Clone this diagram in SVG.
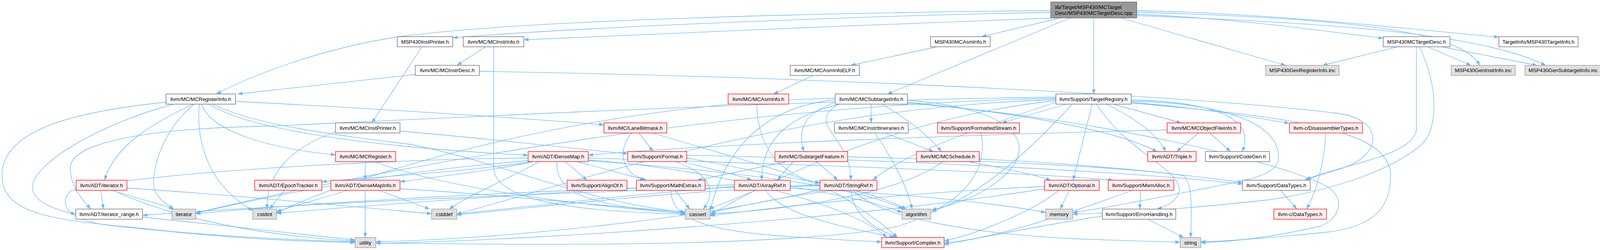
<svg xmlns="http://www.w3.org/2000/svg" width="4104" height="641" viewBox="0 0 4104 641">
<style>
.e{fill:none;stroke:#63b8ff;stroke-width:1.3}
.n rect{fill:#ffffff;stroke:#666666;stroke-width:1.3}
.r rect{fill:#fff0f0;stroke:#ff0000;stroke-width:1.3}
.s rect{fill:#e0e0e0;stroke:#999999;stroke-width:1.3}
.root rect{fill:#999999;stroke:#666666;stroke-width:1.3}
text{font-family:"Liberation Sans",Arial,Helvetica,sans-serif;font-size:13.33px;text-anchor:middle;fill:#000000}
.root text{text-anchor:start}
</style>
<defs>
<marker id="a" markerWidth="13" markerHeight="10" refX="12" refY="4.5" orient="auto" markerUnits="userSpaceOnUse"><path d="M0,0 L12,4.5 L0,9 z" fill="#63b8ff"/></marker>
</defs>
<rect width="4104" height="641" fill="#ffffff"/>
<g id="edges">
<path class="e" marker-end="url(#a)" d="M2690,27 C2000,34 1300,55 1015,95 C820,125 640,195 554,241"/>
<path class="e" marker-end="url(#a)" d="M2690,32 C2300,38 1500,68 1159,97"/>
<path class="e" marker-end="url(#a)" d="M2700,46 C2300,60 1600,90 1341,102"/>
<path class="e" marker-end="url(#a)" d="M2714,46 L2513,94"/>
<path class="e" marker-end="url(#a)" d="M2740,46 L2272,241"/>
<path class="e" marker-end="url(#a)" d="M2800,46 L2800,241"/>
<path class="e" marker-end="url(#a)" d="M2869,46 L3291,167.5"/>
<path class="e" marker-end="url(#a)" d="M2910,36 C3200,50 3400,82 3541,98"/>
<path class="e" marker-end="url(#a)" d="M2910,27 C3300,36 3650,80 3837,95"/>
<path class="e" marker-end="url(#a)" d="M2910,31 C3450,48 3740,78 3788,167.5"/>
<path class="e" marker-end="url(#a)" d="M2910,40 C3450,60 3800,90 3957,167.5"/>
<path class="e" marker-end="url(#a)" d="M1080,120 L952,315"/>
<path class="e" marker-end="url(#a)" d="M1243,120 L1170,167.5"/>
<path class="e" marker-end="url(#a)" d="M1264,120 L1264,430 C1264,520 1500,543 1754,549"/>
<path class="e" marker-end="url(#a)" d="M2399,120 L2178,167.5"/>
<path class="e" marker-end="url(#a)" d="M3578,120 L3386,167.5"/>
<path class="e" marker-end="url(#a)" d="M3654,120 L3766,167.5"/>
<path class="e" marker-end="url(#a)" d="M3690,120 L3935,167.5"/>
<path class="e" marker-end="url(#a)" d="M3626,120 L3626,330 C3626,400 3420,425 3340,462"/>
<path class="e" marker-end="url(#a)" d="M3634,120 C3685,230 3680,330 3640,370 C3560,440 3400,490 3250,512 C3000,540 2850,546 2746,549"/>
<path class="e" marker-end="url(#a)" d="M1063,191 L609,241"/>
<path class="e" marker-end="url(#a)" d="M1227,183 C2000,195 3000,240 3420,290 C3545,305 3540,395 3440,430 C3400,445 3360,452 3345,462"/>
<path class="e" marker-end="url(#a)" d="M2082,193.5 L1980,241"/>
<path class="e" marker-end="url(#a)" d="M425,262 C200,285 5,330 5,450 C5,570 200,565 450,595 C650,615 800,620 909,622"/>
<path class="e" marker-end="url(#a)" d="M444,267 C250,320 83,420 83,480 C83,520 150,540 194,549"/>
<path class="e" marker-end="url(#a)" d="M495,267 C380,320 290,380 268,462"/>
<path class="e" marker-end="url(#a)" d="M497,267 C420,330 393,420 393,470 C393,500 420,520 445,536"/>
<path class="e" marker-end="url(#a)" d="M510,267 C505,330 510,460 647,540"/>
<path class="e" marker-end="url(#a)" d="M516,267 C540,340 700,382 859,397"/>
<path class="e" marker-end="url(#a)" d="M535,267 C650,340 1000,380 1352,398"/>
<path class="e" marker-end="url(#a)" d="M603,260 C900,275 1300,300 1546,320"/>
<path class="e" marker-end="url(#a)" d="M545,267 C650,320 850,345 1050,370 C1300,420 1500,520 1754,544"/>
<path class="e" marker-end="url(#a)" d="M1937,267 C1940,370 1985,445 2099,470"/>
<path class="e" marker-end="url(#a)" d="M2230,267 L2230,315"/>
<path class="e" marker-end="url(#a)" d="M2258,267 C2330,310 2380,350 2410,388.5"/>
<path class="e" marker-end="url(#a)" d="M2138,262 C2060,290 2040,330 2058,388.5"/>
<path class="e" marker-end="url(#a)" d="M2150,267 C2060,290 1950,330 1950,462"/>
<path class="e" marker-end="url(#a)" d="M2146,267 C2060,320 2180,350 2178,462"/>
<path class="e" marker-end="url(#a)" d="M2323,257 C2620,280 2660,380 2560,460 C2500,510 2420,530 2385,538"/>
<path class="e" marker-end="url(#a)" d="M2323,262 C2600,290 2850,330 2962,388.5"/>
<path class="e" marker-end="url(#a)" d="M2323,265 C2800,300 3300,420 3400,480 C3445,510 3430,560 3380,580 C3250,610 3150,620 3074,622"/>
<path class="e" marker-end="url(#a)" d="M2138,256 C1900,280 1840,450 1818,540"/>
<path class="e" marker-end="url(#a)" d="M2138,252 C1500,265 900,450 708,546"/>
<path class="e" marker-end="url(#a)" d="M2850,267 L3024,315"/>
<path class="e" marker-end="url(#a)" d="M2832,267 C2900,300 2960,340 2984,388.5"/>
<path class="e" marker-end="url(#a)" d="M2896,256 C3150,262 3210,320 3180,388.5"/>
<path class="e" marker-end="url(#a)" d="M2896,262 C3100,280 3200,300 3300,316"/>
<path class="e" marker-end="url(#a)" d="M2796,267 L2747,462"/>
<path class="e" marker-end="url(#a)" d="M2807,267 C2880,380 2990,420 3015,470 C3030,500 3000,525 2962,536"/>
<path class="e" marker-end="url(#a)" d="M2730,267 L2565,315"/>
<path class="e" marker-end="url(#a)" d="M2745,267 C2660,360 2520,500 2385,542"/>
<path class="e" marker-end="url(#a)" d="M2896,259 C3166,266 3278,327 3273,409 C3265,450 3200,460 3100,480 C2900,520 2800,538 2746,545"/>
<path class="e" marker-end="url(#a)" d="M2896,264 C3300,300 3560,330 3560,450 C3560,530 3520,580 3400,595 C3250,610 3150,618 3074,620"/>
<path class="e" marker-end="url(#a)" d="M2703,262 C2500,330 2300,400 2235,462"/>
<path class="e" marker-end="url(#a)" d="M2703,258 C2300,300 1950,470 1818,552"/>
<path class="e" marker-end="url(#a)" d="M2703,255 C2000,280 1500,460 1169,549"/>
<path class="e" marker-end="url(#a)" d="M2703,252 C1800,270 900,450 501,546"/>
<path class="e" marker-end="url(#a)" d="M2703,249 C2000,258 1200,300 700,323 C300,330 180,380 180,430 C180,480 210,510 232,536"/>
<path class="e" marker-end="url(#a)" d="M1024,336 C1300,360 1500,385 1607,394"/>
<path class="e" marker-end="url(#a)" d="M859,338 C740,380 680,450 684,536"/>
<path class="e" marker-end="url(#a)" d="M1636,341 L1672,388.5"/>
<path class="e" marker-end="url(#a)" d="M1616,341 C1580,390 1590,440 1650,462"/>
<path class="e" marker-end="url(#a)" d="M1670,341 C1900,410 2100,460 2180,520 C2240,560 2280,590 2297,609"/>
<path class="e" marker-end="url(#a)" d="M2265,341 L2390,388.5"/>
<path class="e" marker-end="url(#a)" d="M2240,341 C2280,400 2320,470 2335,536"/>
<path class="e" marker-end="url(#a)" d="M2511,341 C2530,430 2480,520 2300,580 C2000,640 1200,626 962,623"/>
<path class="e" marker-end="url(#a)" d="M3068,341 L3012,388.5"/>
<path class="e" marker-end="url(#a)" d="M3097,341 L3150,388.5"/>
<path class="e" marker-end="url(#a)" d="M2988,333 C2500,345 1800,370 1506,398"/>
<path class="e" marker-end="url(#a)" d="M3394,341 C3390,420 3370,490 3345,536"/>
<path class="e" marker-end="url(#a)" d="M935,414.5 L935,462"/>
<path class="e" marker-end="url(#a)" d="M959,414.5 C1100,470 1400,520 1754,547"/>
<path class="e" marker-end="url(#a)" d="M1360,414.5 C1200,440 950,455 824,466"/>
<path class="e" marker-end="url(#a)" d="M1365,414.5 C1250,440 1100,455 1024,466"/>
<path class="e" marker-end="url(#a)" d="M1447,414.5 L1503,462"/>
<path class="e" marker-end="url(#a)" d="M1478,414.5 L1655,462"/>
<path class="e" marker-end="url(#a)" d="M1426,414.5 C1420,490 1500,530 1754,546"/>
<path class="e" marker-end="url(#a)" d="M1380,414.5 C1300,460 1200,500 1150,536"/>
<path class="e" marker-end="url(#a)" d="M1352,405 C900,410 300,450 180,490 C150,520 170,560 260,575 C500,605 800,617 909,620"/>
<path class="e" marker-end="url(#a)" d="M1506,410 C1900,440 2200,540 2270,609"/>
<path class="e" marker-end="url(#a)" d="M1506,405 C2000,420 2600,440 2850,462"/>
<path class="e" marker-end="url(#a)" d="M1506,412 C1900,440 2200,480 2312,536"/>
<path class="e" marker-end="url(#a)" d="M1352,412 C1000,440 700,500 501,547"/>
<path class="e" marker-end="url(#a)" d="M1750,414.5 C1800,430 1880,445 1925,462"/>
<path class="e" marker-end="url(#a)" d="M1730,414.5 C1830,450 1830,500 1800,536"/>
<path class="e" marker-end="url(#a)" d="M1758,405 C1900,430 2000,455 2099,468"/>
<path class="e" marker-end="url(#a)" d="M1758,398 C2300,410 2900,440 3181,472"/>
<path class="e" marker-end="url(#a)" d="M2090,414.5 L2145,462"/>
<path class="e" marker-end="url(#a)" d="M2014,414.5 L1785,462"/>
<path class="e" marker-end="url(#a)" d="M2030,414.5 L1990,462"/>
<path class="e" marker-end="url(#a)" d="M2170,402 C2500,410 2900,430 3030,450 C3055,470 3050,560 3048,609"/>
<path class="e" marker-end="url(#a)" d="M2480,414.5 C2560,430 2640,445 2690,462"/>
<path class="e" marker-end="url(#a)" d="M2507,408 C2800,420 3050,450 3181,468"/>
<path class="e" marker-end="url(#a)" d="M2413,414.5 C2300,500 2000,540 1818,548"/>
<path class="e" marker-end="url(#a)" d="M258,488 L265,536"/>
<path class="e" marker-end="url(#a)" d="M285,488 C340,505 400,520 445,536"/>
<path class="e" marker-end="url(#a)" d="M290,488 C400,540 600,600 909,618"/>
<path class="e" marker-end="url(#a)" d="M325,482 C600,500 900,530 1105,548"/>
<path class="e" marker-end="url(#a)" d="M728,488 L690,536"/>
<path class="e" marker-end="url(#a)" d="M890,488 C820,510 740,530 708,543"/>
<path class="e" marker-end="url(#a)" d="M970,488 L1100,536"/>
<path class="e" marker-end="url(#a)" d="M935,488 L935,609"/>
<path class="e" marker-end="url(#a)" d="M1024,484 C1300,500 1550,530 1754,543"/>
<path class="e" marker-end="url(#a)" d="M1728,488 L1766,536"/>
<path class="e" marker-end="url(#a)" d="M1717,488 C1720,560 1800,590 2000,605 C2100,612 2200,618 2257,620"/>
<path class="e" marker-end="url(#a)" d="M1629,482 C1300,500 900,530 708,547"/>
<path class="e" marker-end="url(#a)" d="M1935,488 L1815,536"/>
<path class="e" marker-end="url(#a)" d="M1960,488 C2000,550 2150,580 2290,609"/>
<path class="e" marker-end="url(#a)" d="M2023,478 C2150,500 2250,520 2309,545"/>
<path class="e" marker-end="url(#a)" d="M1880,478 C1600,500 1350,530 1169,549"/>
<path class="e" marker-end="url(#a)" d="M1880,474 C1300,490 800,520 501,548"/>
<path class="e" marker-end="url(#a)" d="M2023,483 C2300,495 2550,520 2677,545"/>
<path class="e" marker-end="url(#a)" d="M2190,488 C2250,505 2290,520 2320,536"/>
<path class="e" marker-end="url(#a)" d="M2178,488 C2185,560 2250,590 2297,609"/>
<path class="e" marker-end="url(#a)" d="M2185,488 C2250,560 2500,600 2750,612 C2900,618 2980,620 3021,621"/>
<path class="e" marker-end="url(#a)" d="M2133,488 C2000,505 1900,528 1819,545"/>
<path class="e" marker-end="url(#a)" d="M2099,476 C1700,490 1400,530 1169,551"/>
<path class="e" marker-end="url(#a)" d="M2099,474 C1500,490 800,520 365,552"/>
<path class="e" marker-end="url(#a)" d="M2099,486 C1800,560 1300,612 962,620"/>
<path class="e" marker-end="url(#a)" d="M2738,488 L2714,536"/>
<path class="e" marker-end="url(#a)" d="M2710,488 C2650,540 2500,600 2417,618"/>
<path class="e" marker-end="url(#a)" d="M2674,478 C2300,495 2000,530 1818,553"/>
<path class="e" marker-end="url(#a)" d="M2674,484 C2200,560 1400,615 962,624"/>
<path class="e" marker-end="url(#a)" d="M2920,488 L2918,536"/>
<path class="e" marker-end="url(#a)" d="M2900,488 C2700,560 2550,610 2417,623"/>
<path class="e" marker-end="url(#a)" d="M2822,554 C2650,580 2500,612 2417,627"/>
<path class="e" marker-end="url(#a)" d="M2938,562 L3030,609"/>
<path class="e" marker-end="url(#a)" d="M3278,488 L3320,536"/>
<path class="e" marker-end="url(#a)" d="M365,557 C600,580 800,605 909,615"/>
</g>
<g id="root" class="root"><rect x="2690" y="5" width="220" height="41"/><text x="2701" y="23">lib/Target/MSP430/MCTarget</text><text x="2701" y="38">Desc/MSP430MCTargetDesc.cpp</text></g>
<g id="n_MSP430InstPrinter" class="n"><rect x="1017" y="94" width="142" height="26"/><text x="1088" y="111.8">MSP430InstPrinter.h</text></g>
<g id="n_MCInstrInfo" class="n"><rect x="1186" y="94" width="155" height="26"/><text x="1263.5" y="111.8">llvm/MC/MCInstrInfo.h</text></g>
<g id="n_MSP430MCAsmInfo" class="n"><rect x="2382" y="94" width="153" height="26"/><text x="2458.5" y="111.8">MSP430MCAsmInfo.h</text></g>
<g id="n_MSP430MCTargetDesc" class="n"><rect x="3541" y="94" width="171" height="26"/><text x="3626.5" y="111.8">MSP430MCTargetDesc.h</text></g>
<g id="n_MSP430TargetInfo" class="n"><rect x="3837" y="94" width="203" height="26"/><text x="3938.5" y="111.8">TargetInfo/MSP430TargetInfo.h</text></g>
<g id="n_MCInstrDesc" class="n"><rect x="1063" y="167.5" width="164" height="26"/><text x="1145" y="185.3">llvm/MC/MCInstrDesc.h</text></g>
<g id="n_MCAsmInfoELF" class="n"><rect x="2023" y="167.5" width="177" height="26"/><text x="2111.5" y="185.3">llvm/MC/MCAsmInfoELF.h</text></g>
<g id="n_GenRegisterInfo" class="s"><rect x="3240" y="167.5" width="188" height="26"/><text x="3334" y="185.3">MSP430GenRegisterInfo.inc</text></g>
<g id="n_GenInstrInfo" class="s"><rect x="3715" y="167.5" width="164" height="26"/><text x="3797" y="185.3">MSP430GenInstrInfo.inc</text></g>
<g id="n_GenSubtargetInfo" class="s"><rect x="3904" y="167.5" width="195" height="26"/><text x="4001.5" y="185.3">MSP430GenSubtargetInfo.inc</text></g>
<g id="n_MCRegisterInfo" class="n"><rect x="425" y="241" width="178" height="26"/><text x="514" y="258.8">llvm/MC/MCRegisterInfo.h</text></g>
<g id="n_MCAsmInfo" class="r"><rect x="1864" y="241" width="155" height="26"/><text x="1941.5" y="258.8">llvm/MC/MCAsmInfo.h</text></g>
<g id="n_MCSubtargetInfo" class="n"><rect x="2138" y="241" width="185" height="26"/><text x="2230.5" y="258.8">llvm/MC/MCSubtargetInfo.h</text></g>
<g id="n_TargetRegistry" class="n"><rect x="2703" y="241" width="193" height="26"/><text x="2799.5" y="258.8">llvm/Support/TargetRegistry.h</text></g>
<g id="n_MCInstPrinter" class="n"><rect x="859" y="315" width="165" height="26"/><text x="941.5" y="332.8">llvm/MC/MCInstPrinter.h</text></g>
<g id="n_LaneBitmask" class="r"><rect x="1546" y="315" width="161" height="26"/><text x="1626.5" y="332.8">llvm/MC/LaneBitmask.h</text></g>
<g id="n_MCInstrItineraries" class="n"><rect x="2136" y="315" width="189" height="26"/><text x="2230.5" y="332.8">llvm/MC/MCInstrItineraries.h</text></g>
<g id="n_FormattedStream" class="r"><rect x="2400" y="315" width="210" height="26"/><text x="2505" y="332.8">llvm/Support/FormattedStream.h</text></g>
<g id="n_MCObjectFileInfo" class="r"><rect x="2988" y="315" width="188" height="26"/><text x="3082" y="332.8">llvm/MC/MCObjectFileInfo.h</text></g>
<g id="n_DisassemblerTypes" class="r"><rect x="3301" y="315" width="187" height="26"/><text x="3394.5" y="332.8">llvm-c/DisassemblerTypes.h</text></g>
<g id="n_MCRegister" class="r"><rect x="859" y="388.5" width="154" height="26"/><text x="936" y="406.3">llvm/MC/MCRegister.h</text></g>
<g id="n_DenseMap" class="r"><rect x="1352" y="388.5" width="154" height="26"/><text x="1429" y="406.3">llvm/ADT/DenseMap.h</text></g>
<g id="n_Format" class="r"><rect x="1607" y="388.5" width="151" height="26"/><text x="1682.5" y="406.3">llvm/Support/Format.h</text></g>
<g id="n_SubtargetFeature" class="r"><rect x="1984" y="388.5" width="186" height="26"/><text x="2077" y="406.3">llvm/MC/SubtargetFeature.h</text></g>
<g id="n_MCSchedule" class="r"><rect x="2346" y="388.5" width="161" height="26"/><text x="2426.5" y="406.3">llvm/MC/MCSchedule.h</text></g>
<g id="n_Triple" class="r"><rect x="2938" y="388.5" width="124" height="26"/><text x="3000" y="406.3">llvm/ADT/Triple.h</text></g>
<g id="n_CodeGen" class="n"><rect x="3086" y="388.5" width="164" height="26"/><text x="3168" y="406.3">llvm/Support/CodeGen.h</text></g>
<g id="n_iteratorh" class="r"><rect x="195" y="462" width="130" height="26"/><text x="260" y="479.8">llvm/ADT/iterator.h</text></g>
<g id="n_EpochTracker" class="r"><rect x="652" y="462" width="172" height="26"/><text x="738" y="479.8">llvm/ADT/EpochTracker.h</text></g>
<g id="n_DenseMapInfo" class="r"><rect x="847" y="462" width="177" height="26"/><text x="935.5" y="479.8">llvm/ADT/DenseMapInfo.h</text></g>
<g id="n_AlignOf" class="r"><rect x="1452" y="462" width="153" height="26"/><text x="1528.5" y="479.8">llvm/Support/AlignOf.h</text></g>
<g id="n_MathExtras" class="r"><rect x="1629" y="462" width="176" height="26"/><text x="1717" y="479.8">llvm/Support/MathExtras.h</text></g>
<g id="n_ArrayRef" class="r"><rect x="1880" y="462" width="143" height="26"/><text x="1951.5" y="479.8">llvm/ADT/ArrayRef.h</text></g>
<g id="n_StringRef" class="r"><rect x="2099" y="462" width="146" height="26"/><text x="2172" y="479.8">llvm/ADT/StringRef.h</text></g>
<g id="n_Optional" class="r"><rect x="2674" y="462" width="140" height="26"/><text x="2744" y="479.8">llvm/ADT/Optional.h</text></g>
<g id="n_MemAlloc" class="r"><rect x="2837" y="462" width="168" height="26"/><text x="2921" y="479.8">llvm/Support/MemAlloc.h</text></g>
<g id="n_DataTypes" class="n"><rect x="3181" y="462" width="173" height="26"/><text x="3267.5" y="479.8">llvm/Support/DataTypes.h</text></g>
<g id="n_iterator_range" class="n"><rect x="194" y="536" width="171" height="26"/><text x="279.5" y="553.8">llvm/ADT/iterator_range.h</text></g>
<g id="n_iterator" class="s"><rect x="440" y="536" width="61" height="26"/><text x="470.5" y="553.8">iterator</text></g>
<g id="n_cstdint" class="s"><rect x="647" y="536" width="61" height="26"/><text x="677.5" y="553.8">cstdint</text></g>
<g id="n_cstddef" class="s"><rect x="1105" y="536" width="64" height="26"/><text x="1137" y="553.8">cstddef</text></g>
<g id="n_cassert" class="s"><rect x="1754" y="536" width="64" height="26"/><text x="1786" y="553.8">cassert</text></g>
<g id="n_algorithm" class="s"><rect x="2309" y="536" width="74" height="26"/><text x="2346" y="553.8">algorithm</text></g>
<g id="n_memory" class="s"><rect x="2677" y="536" width="69" height="26"/><text x="2711.5" y="553.8">memory</text></g>
<g id="n_ErrorHandling" class="n"><rect x="2822" y="536" width="188" height="26"/><text x="2916" y="553.8">llvm/Support/ErrorHandling.h</text></g>
<g id="n_c_DataTypes" class="r"><rect x="3261" y="536" width="135" height="26"/><text x="3328.5" y="553.8">llvm-c/DataTypes.h</text></g>
<g id="n_utility" class="s"><rect x="909" y="609" width="53" height="26"/><text x="935.5" y="626.8">utility</text></g>
<g id="n_Compiler" class="r"><rect x="2257" y="609" width="160" height="26"/><text x="2337" y="626.8">llvm/Support/Compiler.h</text></g>
<g id="n_string" class="s"><rect x="3021" y="609" width="53" height="26"/><text x="3047.5" y="626.8">string</text></g>
</svg>
